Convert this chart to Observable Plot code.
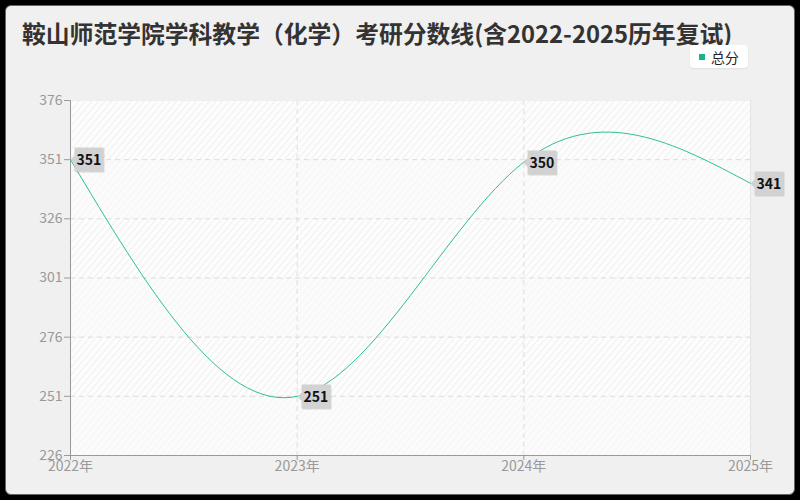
<!DOCTYPE html>
<html><head><meta charset="utf-8">
<script src="https://cdn.jsdelivr.net/npm/d3@7"></script>
<script src="https://cdn.jsdelivr.net/npm/@observablehq/plot@0.6"></script>
<style>
html,body{margin:0;padding:0;background:#000;width:800px;height:500px;overflow:hidden;}
#panel{position:absolute;left:5px;top:5px;width:788px;height:488px;background:#f0f0f0;border:1px solid #666;border-radius:6px;}
#title{position:absolute;left:22px;top:15px;font:bold 23.8px "Noto Sans CJK SC",sans-serif;color:#333;white-space:nowrap;}
#legend{position:absolute;left:690px;top:45px;width:58px;height:23px;background:#fff;border-radius:4px;box-shadow:0 1px 2px #0001;font:14px "Noto Sans CJK SC",sans-serif;color:#222;display:flex;align-items:center;}
#legend .sw{width:6px;height:6px;background:#19b38a;margin:0 6px 0 9px;}
#chart{position:absolute;left:0;top:0;}
#chart g[aria-label=tip] text{fill:#111;}
</style></head>
<body>
<div id="panel"></div>
<div id="chart"></div>
<div id="title">鞍山师范学院学科教学（化学）考研分数线(含2022-2025历年复试)</div>
<div id="legend"><span class="sw"></span>总分</div>
<script>
const years = [2022, 2023, 2024, 2025];
const scores = [351, 251, 350, 341];
const yTicks = [226, 251, 276, 301, 326, 351, 376];
const xTicks = [2022, 2023, 2024, 2025];
const seriesName = "总分";

const data = years.map((y, i) => ({year: y, score: scores[i], name: seriesName}));
const bands = yTicks.slice(0, -1).map((t, i) => ({y1: t, y2: yTicks[i + 1], k: (yTicks.length - 2 - i) % 2}));

const chart = Plot.plot({
  width: 800,
  height: 500,
  marginLeft: 70,
  marginRight: 50,
  marginTop: 100,
  marginBottom: 45,
  style: {background: "transparent", fontFamily: "'Noto Sans CJK SC', sans-serif", fontSize: "14px"},
  x: {domain: [2022, 2025], ticks: xTicks, tickFormat: d => d + "年", label: null},
  y: {domain: [226, 376], ticks: yTicks, label: null},
  marks: [
    Plot.rect(bands.filter(d => d.k === 0), {x1: () => 2022, x2: () => 2025, y1: "y1", y2: "y2", fill: "url(#hatchA)"}),
    Plot.rect(bands.filter(d => d.k === 1), {x1: () => 2022, x2: () => 2025, y1: "y1", y2: "y2", fill: "url(#hatchB)"}),
    Plot.gridY(yTicks.slice(1, -1), {stroke: "#ddd", strokeOpacity: 1, strokeDasharray: "5,4"}),
    Plot.gridX([2023, 2024], {stroke: "#ddd", strokeOpacity: 1, strokeDasharray: "5,4"}),
    Plot.ruleX([2025], {stroke: "#e4e4e4"}),
    Plot.ruleY([376], {stroke: "#eee"}),
    Plot.axisY({ticks: yTicks, tickSize: 6, tickPadding: 2, color: "#999", fontSize: 14, label: null}),
    Plot.axisX({ticks: xTicks, tickSize: 5, tickPadding: 1, color: "#999", fontSize: 14, label: null, tickFormat: d => d + "年"}),
    Plot.ruleX([2022], {stroke: "#999"}),
    Plot.ruleY([226], {stroke: "#999"}),
    Plot.line(data, {x: "year", y: "score", curve: "natural", stroke: "#2fc08f", strokeWidth: 1}),
    Plot.tip(data, {x: "year", y: "score", title: d => String(d.score), anchor: "left",
      fill: "#d2d2d2", stroke: "none", fontSize: 14, fontWeight: "bold",
      textPadding: 2, pointerSize: 8, pathFilter: "drop-shadow(1px 1px 0 #0002)"})
  ]
});

const defs = d3.select(chart).insert("defs", ":first-child");
function hatch(id, bg, line) {
  const pat = defs.append("pattern").attr("id", id).attr("patternUnits", "userSpaceOnUse")
    .attr("width", 5).attr("height", 5).attr("patternTransform", "rotate(40)");
  pat.append("rect").attr("width", 5).attr("height", 5).attr("fill", bg);
  pat.append("line").attr("x1", 0).attr("y1", 0).attr("x2", 0).attr("y2", 5).attr("stroke", line).attr("stroke-width", 1.5);
}
hatch("hatchA", "#fdfdfd", "#ececec");
hatch("hatchB", "#fbfbfb", "#f4f4f4");

document.getElementById("chart").appendChild(chart);
</script>
</body></html>
